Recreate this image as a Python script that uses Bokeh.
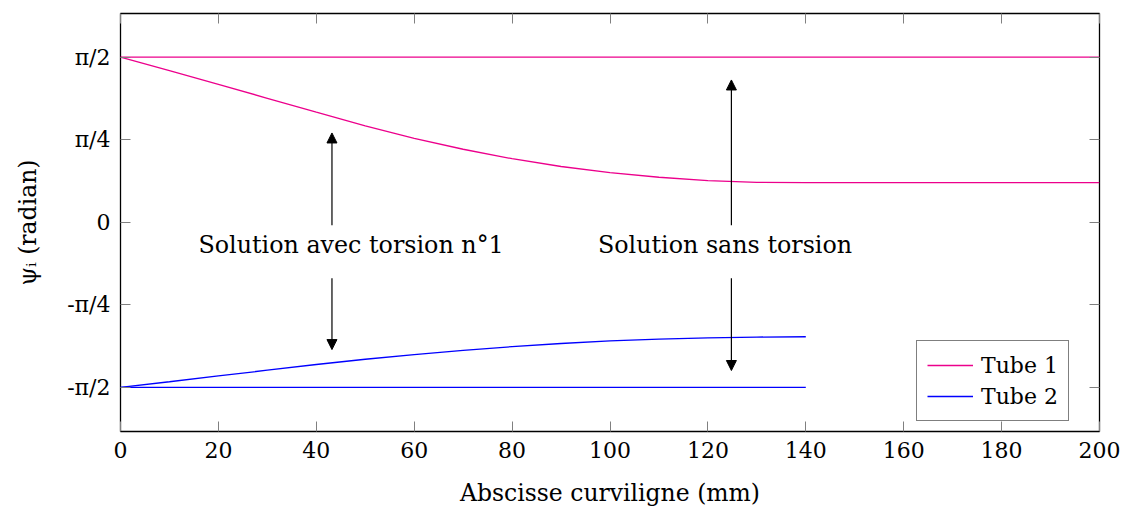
import numpy as np
from bokeh.plotting import figure
from bokeh.models import (Range1d, LinearAxis, FixedTicker, Arrow, NormalHead,
                          Label, Legend, LegendItem)
from bokeh.embed import file_html
from bokeh.resources import INLINE

# ---------------- data ----------------
x_curve_t1 = [0, 10, 20, 30, 40, 50, 60, 70, 80, 90, 100, 110, 120, 130, 140,
              150, 160, 170, 180, 190, 200]
psi_t1_torsion = [1.571, 1.441, 1.311, 1.179, 1.046, 0.916, 0.798, 0.694, 0.604,
                  0.530, 0.472, 0.428, 0.396, 0.380, 0.376, 0.376, 0.376, 0.376,
                  0.376, 0.376, 0.376]
x_flat_t1 = [0, 200]
psi_t1_sans = [np.pi / 2, np.pi / 2]

x_curve_t2 = [0, 10, 20, 30, 40, 50, 60, 70, 80, 90, 100, 110, 120, 130, 140]
psi_t2_torsion = [-1.571, -1.517, -1.462, -1.407, -1.353, -1.303, -1.258, -1.218,
                  -1.183, -1.153, -1.129, -1.111, -1.099, -1.092, -1.089]
x_flat_t2 = [0, 140]
psi_t2_sans = [-np.pi / 2, -np.pi / 2]

x_ticks = [0, 20, 40, 60, 80, 100, 120, 140, 160, 180, 200]
y_ticks = [-np.pi / 2, -np.pi / 4, 0.0, np.pi / 4, np.pi / 2]
y_tick_labels = ["-π/2", "-π/4", "0", "π/4", "π/2"]

# annotation arrows: (x, y_start, y_end)
arrows = [
    (43.2, -0.028, 0.849),
    (43.2, -0.533, -1.211),
    (124.8, -0.028, 1.353),
    (124.8, -0.533, -1.410),
]
annotations = [
    ("Solution avec torsion n°1", 47.1, -0.215),
    ("Solution sans torsion", 123.5, -0.215),
]

PINK = "#ec008c"
BLUE = "#0000ff"
FONT = "DejaVu Serif"

# ---------------- figure ----------------
p = figure(width=1124, height=509, output_backend="svg", toolbar_location=None,
           x_range=Range1d(0, 200), y_range=Range1d(-1.99, 1.985),
           min_border_left=120, min_border_right=25, min_border_top=13,
           min_border_bottom=77)
p.xgrid.visible = False
p.ygrid.visible = False
p.outline_line_color = "black"
p.outline_line_width = 1.3
p.background_fill_color = "white"
p.border_fill_color = "white"

r1 = p.line(x_flat_t1, psi_t1_sans, line_color=PINK, line_width=1.3)
r1b = p.line(x_curve_t1, psi_t1_torsion, line_color=PINK, line_width=1.3)
r2 = p.line(x_flat_t2, psi_t2_sans, line_color=BLUE, line_width=1.3)
r2b = p.line(x_curve_t2, psi_t2_torsion, line_color=BLUE, line_width=1.3)

# axes
xa = p.xaxis[0]
xa.ticker = FixedTicker(ticks=x_ticks)
ya = p.yaxis[0]
ya.ticker = FixedTicker(ticks=y_ticks)
ya.major_label_overrides = {t: l for t, l in zip(y_ticks, y_tick_labels)}

for ax in (xa, ya):
    ax.axis_line_color = None
    ax.major_tick_in = 10
    ax.major_tick_out = 0
    ax.minor_tick_line_color = None
    ax.major_tick_line_color = "#808080"
    ax.major_label_text_font = FONT
    ax.major_label_text_font_size = "22px"
    ax.major_label_text_color = "black"
    ax.axis_label_text_font = FONT
    ax.axis_label_text_font_size = "23.5px"
    ax.axis_label_text_font_style = "normal"
    ax.axis_label_text_color = "black"

xa.axis_label = "Abscisse curviligne (mm)"
xa.major_label_standoff = 10
xa.axis_label_standoff = 18
ya.axis_label = "ψᵢ (radian)"
ya.major_label_standoff = 10
ya.axis_label_standoff = 22

# mirrored ticks (no labels)
top = LinearAxis(ticker=FixedTicker(ticks=x_ticks))
top.major_label_overrides = {t: "" for t in x_ticks}
right = LinearAxis(ticker=FixedTicker(ticks=y_ticks))
right.major_label_overrides = {t: "" for t in y_ticks}
for ax in (top, right):
    ax.axis_line_color = None
    ax.major_tick_in = 10
    ax.major_tick_out = 0
    ax.minor_tick_line_color = None
    ax.major_tick_line_color = "#808080"
    ax.major_label_standoff = 0
p.add_layout(top, "above")
p.add_layout(right, "right")

# arrows
for ax_x, y0, y1 in arrows:
    p.add_layout(Arrow(x_start=ax_x, y_start=y0, x_end=ax_x, y_end=y1,
                       line_color="black", line_width=1.2,
                       end=NormalHead(size=10, fill_color="black",
                                      line_color="black", line_width=1)))

for txt, tx, ty in annotations:
    p.add_layout(Label(x=tx, y=ty, text=txt, text_align="center",
                       text_baseline="alphabetic", text_font=FONT,
                       text_font_size="23.8px", text_color="black"))

legend = Legend(items=[LegendItem(label="Tube 1", renderers=[r1]),
                       LegendItem(label="Tube 2", renderers=[r2])],
                location=(796, 10))
legend.border_line_color = "black"
legend.border_line_width = 1
legend.background_fill_alpha = 1
legend.label_text_font = FONT
legend.label_text_font_size = "22px"
legend.label_text_color = "black"
legend.glyph_width = 46
legend.glyph_height = 28
legend.label_height = 28
legend.label_standoff = 8
legend.padding = 10
legend.spacing = 3
legend.margin = 0
p.add_layout(legend, "center")

open("out.html", "w").write(file_html(p, INLINE))
